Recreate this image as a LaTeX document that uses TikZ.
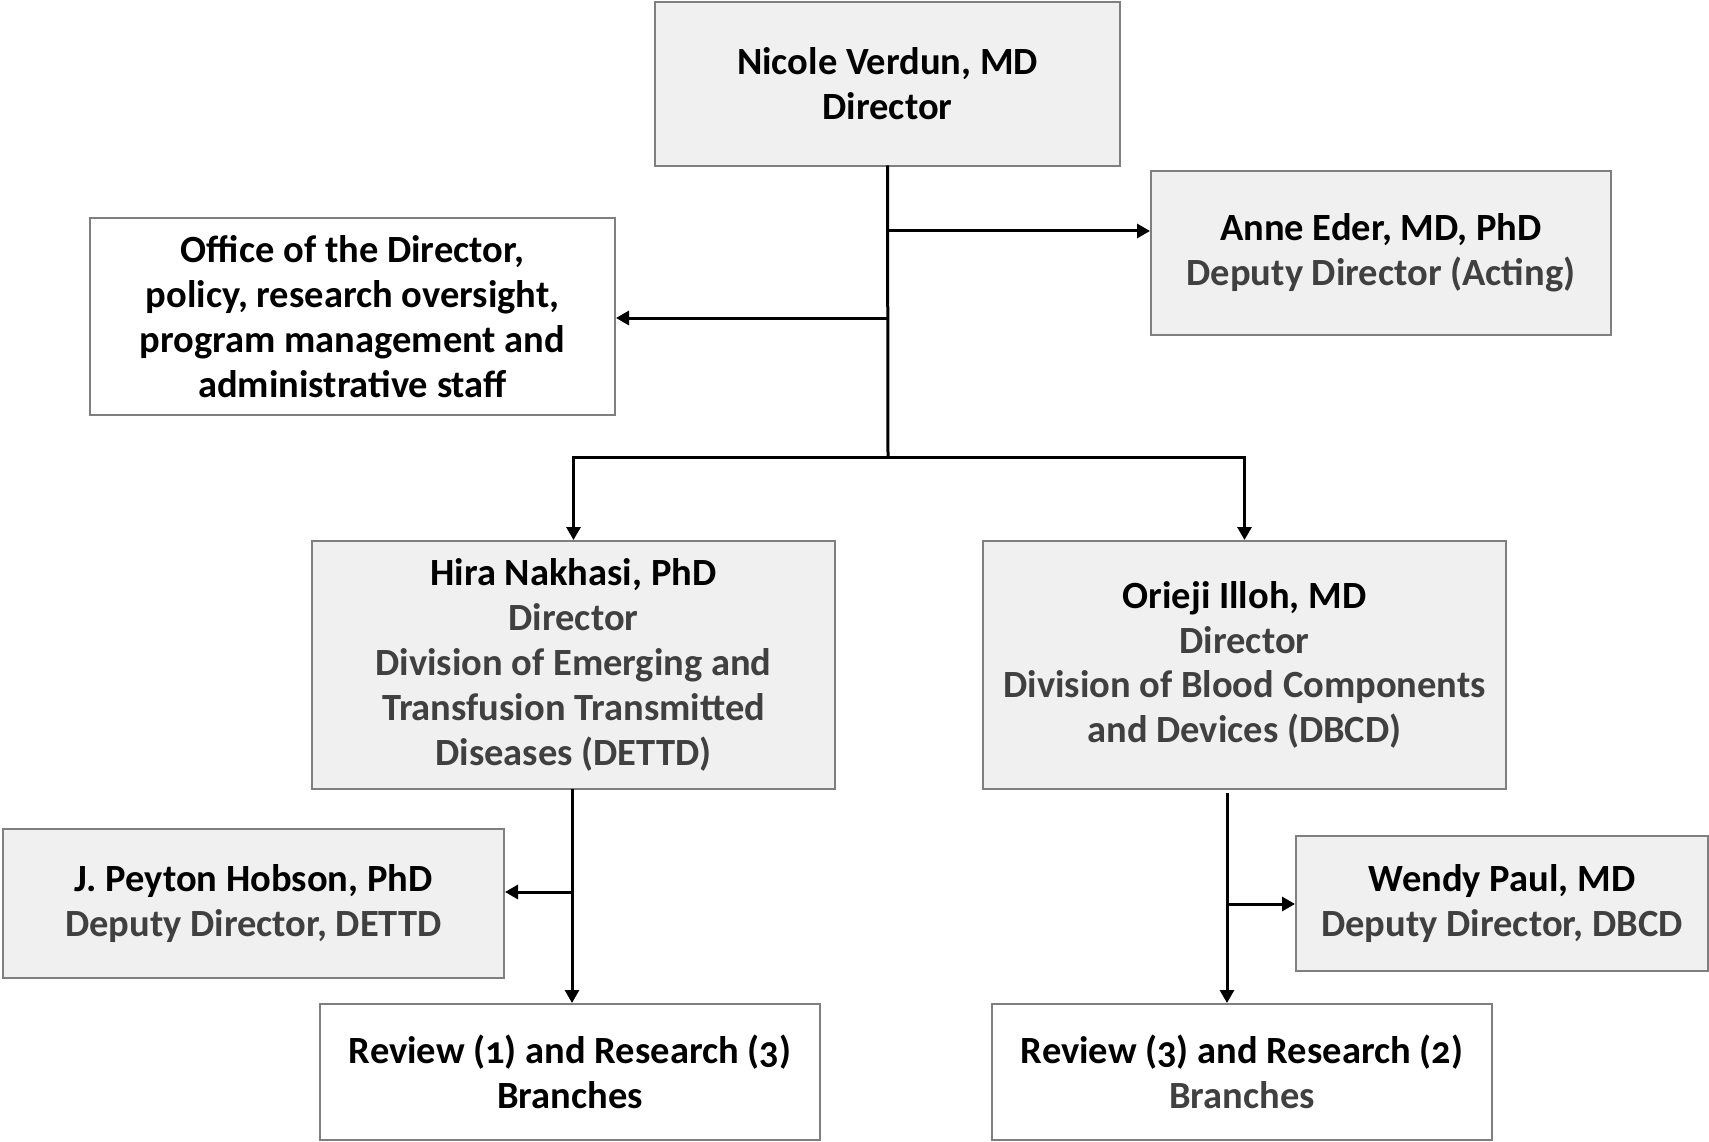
\documentclass[tikz,border=0pt]{standalone}
\usepackage{fontspec}
\setmainfont[Numbers=OldStyle]{Carlito}
\usetikzlibrary{arrows.meta}
\definecolor{boxfill}{HTML}{F0F0F0}
\definecolor{boxline}{HTML}{7F7F7F}
\definecolor{subgray}{HTML}{404040}
\newcommand{\sub}[1]{\textcolor{subgray}{#1}}
\begin{document}
\begin{tikzpicture}[x=1pt,y=-1pt,
    plainbox/.style={draw=boxline, line width=2pt, fill=white, align=center,
      inner sep=0pt, font=\fontsize{38.5}{44.8}\selectfont\bfseries},
    graybox/.style={plainbox, fill=boxfill},
    link/.style={line width=3pt, line cap=rect},
    arrowlink/.style={line width=3pt, -{Triangle[length=13pt,width=14pt]}}]
  \useasboundingbox (0,0) rectangle (1709,1142);

  % Boxes
  \node[graybox, minimum width=465pt, minimum height=164pt] (dir) at (887.5,84) {Nicole Verdun, MD\\Director};
  \node[graybox, minimum width=460pt, minimum height=164pt] (anne) at (1381,253) {Anne Eder, MD, PhD\\\sub{Deputy Director (Acting)}};
  \node[plainbox, minimum width=525pt, minimum height=197pt] (ofc) at (352.5,316.5) {Office of the Director,\\policy, research oversight,\\program management and\\administrative staff};
  \node[graybox, minimum width=523pt, minimum height=248pt] (dettd) at (573.5,665) {Hira Nakhasi, PhD\\\sub{Director}\\\sub{Division of Emerging and}\\\sub{Transfusion Transmitted}\\\sub{Diseases (DETTD)}};
  \node[graybox, minimum width=523pt, minimum height=248pt] (dbcd) at (1244.5,665) {Orieji Illoh, MD\\\sub{Director}\\\sub{Division of Blood Components}\\\sub{and Devices (DBCD)}};
  \node[graybox, minimum width=501pt, minimum height=149pt] (hobson) at (253.5,903.5) {J. Peyton Hobson, PhD\\\sub{Deputy Director, DETTD}};
  \node[graybox, minimum width=412pt, minimum height=135pt] (paul) at (1502,903.5) {Wendy Paul, MD\\\sub{Deputy Director, DBCD}};
  \node[plainbox, minimum width=500pt, minimum height=136pt] (revl) at (570,1072) {Review (1) and Research (3)\\Branches};
  \node[plainbox, minimum width=500pt, minimum height=136pt] (revr) at (1242,1072) {Review (3) and Research (2)\\\sub{Branches}};

  % Trunk from the director
  \coordinate (bar) at (888,457);
  \coordinate (toanne) at (888,231);
  \coordinate (toofc) at (888,318);
  \draw[link] (dir.south) -- (bar);
  \draw[arrowlink] (toanne) -- (anne.west |- toanne);
  \draw[arrowlink] (toofc) -- (ofc.east |- toofc);
  \draw[link] (dettd.north |- bar) -- (dbcd.north |- bar);
  \draw[arrowlink] (dettd.north |- bar) -- (dettd.north);
  \draw[arrowlink] (dbcd.north |- bar) -- (dbcd.north);

  % DETTD branch
  \coordinate (ltrunk) at (572,789);
  \coordinate (tohobson) at (572,892);
  \draw[arrowlink] (ltrunk) -- (ltrunk |- revl.north);
  \draw[arrowlink] (tohobson) -- (hobson.east |- tohobson);

  % DBCD branch
  \coordinate (rtrunk) at (1227,793);
  \coordinate (topaul) at (1227,904);
  \draw[arrowlink] (rtrunk) -- (rtrunk |- revr.north);
  \draw[arrowlink] (topaul) -- (paul.west |- topaul);

\end{tikzpicture}
\end{document}
